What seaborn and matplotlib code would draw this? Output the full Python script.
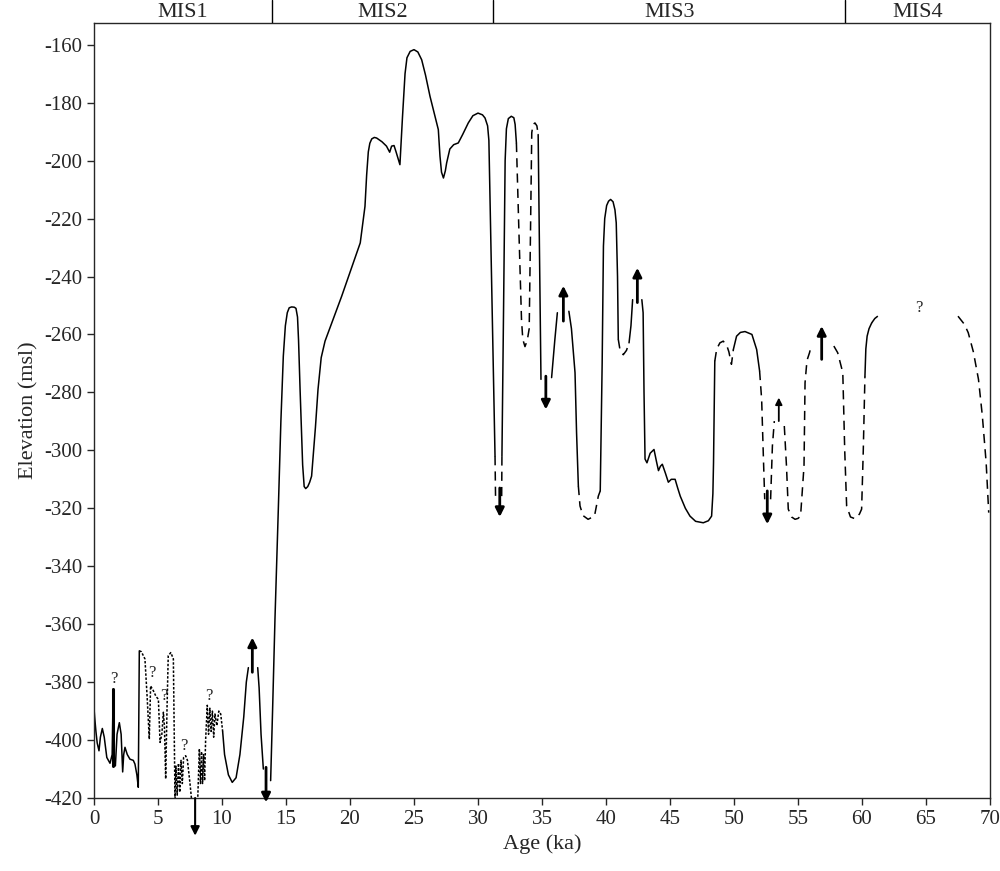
import numpy as np
import pandas as pd
import matplotlib
matplotlib.use("Agg")
import matplotlib.pyplot as plt
import seaborn as sns

# ============================================
# DATA
# ============================================

# each segment: (x values, y values, style)
seg_x = {}
seg_y = {}
seg_style = {}

seg_x["a"] = [0, 0.05, 0.15, 0.25, 0.39, 0.5, 0.65, 0.8, 1.0, 1.25, 1.42, 1.5, 1.56, 1.67,
              1.8, 1.98, 2.12, 2.24, 2.32, 2.42, 2.6, 2.81, 3.07, 3.2, 3.35, 3.46, 3.54]
seg_y["a"] = [-389, -392, -397, -401, -403.7, -399, -396, -399, -406, -408, -405, -382.4, -409, -408.9,
              -398, -394, -398, -411, -405, -402.5, -405, -406.6, -407, -408.3, -412, -416.3, -369.2]
seg_style["a"] = "solid"

seg_x["b"] = [3.54, 3.7, 3.98, 4.15, 4.32, 4.42, 4.64, 4.85, 5.03, 5.16, 5.3, 5.42, 5.5, 5.6, 5.7,
              5.8, 6.0, 6.2, 6.33, 6.4, 6.5, 6.6, 6.7, 6.8, 6.9, 7.0, 7.16, 7.3, 7.5, 7.7, 7.85]
seg_y["b"] = [-369.2, -369.5, -372, -385, -399.7, -381.3, -383, -385, -385.9, -400.8, -398, -390.4, -395, -413.4, -390,
              -370.9, -369.8, -372, -421, -409, -419, -408, -418, -407, -415, -406, -405.4, -407, -415, -424, -428]
seg_style["b"] = "dotted"

seg_x["c"] = [8.1, 8.23, 8.32, 8.4, 8.48, 8.56, 8.64, 8.72, 8.85, 8.95, 9.05, 9.15, 9.25, 9.35,
              9.45, 9.6, 9.75, 9.9, 10.05]
seg_y["c"] = [-421, -403, -415, -404, -415, -405, -414, -400, -388, -398, -389, -397, -390, -399,
              -391, -395, -390, -391, -397]
seg_style["c"] = "dotted"

seg_x["d"] = [10.05, 10.2, 10.5, 10.8, 11.1, 11.4, 11.7, 11.9, 12.06]
seg_y["d"] = [-397, -405, -412, -414.6, -413, -405, -392, -380, -375]
seg_style["d"] = "solid"

seg_x["e"] = [12.79, 12.9, 13.05, 13.23]
seg_y["e"] = [-375, -382, -398, -410]
seg_style["e"] = "solid"

seg_x["f"] = [13.8, 13.95, 14.14, 14.4, 14.6, 14.79, 14.95, 15.1, 15.25, 15.44, 15.65, 15.78, 15.9,
              15.98, 16.1, 16.3, 16.42, 16.54, 16.7, 16.85, 17.0, 17.3, 17.5, 17.75, 18.05, 19.35,
              20.8, 21.17, 21.3, 21.43, 21.55, 21.7, 21.9, 22.08, 22.5, 22.85, 23.1, 23.25, 23.44,
              23.6, 23.9, 24.1, 24.3, 24.45, 24.7, 25.0, 25.3, 25.6, 25.9, 26.25, 26.9, 27.03, 27.15,
              27.3, 27.45, 27.55, 27.8, 28.1, 28.46, 28.8, 29.24, 29.6, 30.0, 30.35, 30.55, 30.75,
              30.85, 30.94, 31.1, 31.33]
seg_y["f"] = [-414, -390, -358, -320.3, -290, -267.5, -257, -252.5, -250.8, -250.5, -250.6, -251, -254,
              -262, -279, -305, -312.5, -313.2, -312.5, -311, -308.9, -292, -279, -268, -262.3, -246.8,
              -228.4, -215.8, -205, -197, -194, -192.5, -192, -192.2, -193.5, -195, -197.1, -195, -194.8,
              -197, -201.4, -185, -170, -164.5, -162.3, -161.7, -162.5, -165.2, -170.5, -177.8, -189.3,
              -198.5, -204, -206, -203.5, -200.8, -196, -194.5, -193.9, -191, -187, -184.5, -183.6,
              -184.2, -185.3, -188, -193, -213.4, -250, -302]
seg_style["f"] = "solid"

seg_x["g"] = [31.33, 31.37]
seg_y["g"] = [-302, -315.8]
seg_style["g"] = "dashed"

seg_x["h"] = [31.85, 31.87]
seg_y["h"] = [-315.8, -302]
seg_style["h"] = "dashed"

seg_x["i"] = [31.87, 32.0, 32.12, 32.22, 32.37, 32.6, 32.8, 32.9, 33.0]
seg_y["i"] = [-302, -250, -200, -189, -185.5, -184.7, -185.2, -187.5, -193.9]
seg_style["i"] = "solid"

seg_x["j"] = [33.0, 33.2, 33.4, 33.5, 33.67, 33.85, 34.0, 34.1, 34.2, 34.3, 34.45, 34.6, 34.7]
seg_y["j"] = [-193.9, -225, -255, -261.7, -264.2, -262, -258, -225, -190.4, -187.5, -187, -188, -191]
seg_style["j"] = "dashed"

seg_x["k"] = [34.7, 34.8, 34.92]
seg_y["k"] = [-191, -230, -275.5]
seg_style["k"] = "solid"

seg_x["l"] = [35.75, 36.0, 36.2]
seg_y["l"] = [-274.9, -262, -252.5]
seg_style["l"] = "solid"

seg_x["m"] = [37.1, 37.3, 37.58, 37.7, 37.84]
seg_y["m"] = [-252, -258, -273.2, -293.9, -312.3]
seg_style["m"] = "solid"

seg_x["n"] = [37.84, 37.97, 38.2, 38.6, 39.1, 39.4, 39.55]
seg_y["n"] = [-312.3, -319.2, -322.5, -323.8, -322.7, -315.8, -314]
seg_style["n"] = "dashed"

seg_x["o"] = [39.55, 39.7, 39.8, 39.9, 40.05, 40.2, 40.36, 40.55, 40.7, 40.8, 40.9, 40.96]
seg_y["o"] = [-314, -270, -229.5, -220, -215.5, -214, -213.4, -214.2, -217, -221.5, -240, -261.7]
seg_style["o"] = "solid"

seg_x["p"] = [40.96, 41.1, 41.35, 41.6, 41.8]
seg_y["p"] = [-261.7, -265.5, -267, -265.5, -262.9]
seg_style["p"] = "dashed"

seg_x["q"] = [41.8, 41.95, 42.08]
seg_y["q"] = [-262.9, -257, -248]
seg_style["q"] = "solid"

seg_x["r"] = [42.8, 42.9, 42.97, 43.05, 43.2, 43.45, 43.75, 43.95, 44.1, 44.25, 44.4, 44.65, 44.87,
              45.1, 45.4, 45.6, 45.8, 46.2, 46.56, 47.0, 47.6, 48.0, 48.25, 48.35, 48.4, 48.5]
seg_y["r"] = [-248, -252.5, -280, -303, -304.3, -301, -299.7, -304, -307, -305.5, -304.8, -308, -311,
              -310, -310, -313, -315.8, -320, -322.7, -324.5, -325, -324.3, -322.7, -315, -304.3, -269.2]
seg_style["r"] = "solid"

seg_x["s"] = [48.5, 48.65, 48.9, 49.16, 49.45, 49.6, 49.8, 49.95]
seg_y["s"] = [-269.2, -265, -262.9, -262.3, -264, -266, -270.3, -265.2]
seg_style["s"] = "dashed"

seg_x["t"] = [49.95, 50.2, 50.5, 50.86, 51.4, 51.77, 52.0]
seg_y["t"] = [-265.2, -260.6, -259.3, -259, -260, -265.2, -272.6]
seg_style["t"] = "solid"

seg_x["u"] = [52.0, 52.16, 52.3, 52.4]
seg_y["u"] = [-272.6, -282.4, -303, -316.9]
seg_style["u"] = "dashed"

seg_x["v"] = [52.86, 53.0, 53.15]
seg_y["v"] = [-316.9, -298.5, -289.9]
seg_style["v"] = "dashed"

seg_x["w"] = [53.93, 54.1, 54.24, 54.5, 54.77, 55.0, 55.2, 55.47, 55.55, 55.7, 55.9, 56.0]
seg_y["w"] = [-291.6, -305.4, -320.3, -323, -323.8, -323.5, -322.7, -305.4, -276.7, -269, -266.3, -264.5]
seg_style["w"] = "dashed"

seg_x["x"] = [57.8, 58.1, 58.5, 58.65, 58.8, 59.1, 59.45, 59.8, 59.97, 60.1, 60.23]
seg_y["x"] = [-264, -266.3, -273.2, -300, -319.2, -323, -323.6, -322, -320.3, -300, -274.4]
seg_style["x"] = "dashed"

seg_x["y"] = [60.23, 60.3, 60.4, 60.55, 60.76]
seg_y["y"] = [-274.4, -265, -260.6, -258, -256]
seg_style["y"] = "solid"

seg_x["z"] = [60.76, 61.0, 61.4]
seg_y["z"] = [-256, -254.5, -253.1]
seg_style["z"] = "dashed"

seg_x["zz"] = [67.5, 68.0, 68.3, 68.7, 69.1, 69.4, 69.7, 69.9]
seg_y["zz"] = [-253.7, -256.5, -259.4, -266, -275.5, -288, -304.3, -321.5]
seg_style["zz"] = "dashed"

# arrows: x, tail y, tip y
arrow_x = [7.9, 12.37, 13.44, 31.7, 35.3, 36.67, 42.45, 52.6, 53.5, 56.85]
arrow_y0 = [-420, -376.6, -409.4, -313, -274.4, -255.4, -249, -314, -289.9, -268.6]
arrow_y1 = [-433, -364.6, -421.5, -323, -285.9, -243.2, -237, -325.5, -281.8, -257.1]
arrow_lw = [1.5, 2, 2, 2, 2, 2, 2, 2, 1.3, 2]

# question marks
q_x = [1.51, 4.5, 5.42, 6.98, 8.98, 64.4]
q_y = [-378.9, -376.7, -384.7, -402.2, -384.7, -250.8]

# marine isotope stages
mis_bounds = [0, 13.9, 31.2, 58.7, 70]
mis_labels = ["MIS1", "MIS2", "MIS3", "MIS4"]

# ============================================
# PLOT
# ============================================

sns.set_style("ticks")
plt.rcParams["font.family"] = ["Liberation Serif", "DejaVu Serif"]
plt.rcParams["axes.unicode_minus"] = False

styles = {
    "solid": "-",
    "dashed": (0, (6, 4)),
    "dotted": (0, (1.6, 1.1)),
}

fig = plt.figure(figsize=(10, 8.71), dpi=100)
ax = fig.add_axes([0.094, 0.0838, 0.896, 0.8898])

for key in seg_x:
    df = pd.DataFrame({"age": seg_x[key], "elev": seg_y[key]})
    sns.lineplot(
        data=df, x="age", y="elev", sort=False, estimator=None,
        color="black", linewidth=1.1, linestyle=styles[seg_style[key]], ax=ax
    )

# thick spike near 1.5 ka
ax.plot([1.5, 1.5], [-409, -382.4], color="black", linewidth=2.2)

for x, y0, y1, lw in zip(arrow_x, arrow_y0, arrow_y1, arrow_lw):
    ax.annotate(
        "", xy=(x, y1), xytext=(x, y0), annotation_clip=False,
        arrowprops=dict(arrowstyle="-|>", color="black", lw=lw,
                        mutation_scale=13 if lw > 1.4 else 10, shrinkA=0, shrinkB=0)
    )

for x, y in zip(q_x, q_y):
    ax.text(x, y, "?", ha="center", va="center", fontsize=12)

ax.set_xlim(0, 70)
ax.set_ylim(-420, -152.5)
ax.set_xticks(np.arange(0, 71, 5))
ax.set_yticks(np.arange(-420, -159, 20))
ax.tick_params(direction="out", length=5, width=1, labelsize=15)
for s in ax.spines.values():
    s.set_visible(True)
    s.set_linewidth(1.0)

ax.set_xlabel("Age (ka)", fontsize=16, labelpad=4)
ax.set_ylabel("Elevation (msl)", fontsize=16, labelpad=4)

# MIS band on top
band = fig.add_axes([0.094, 0.9736, 0.896, 0.0264])
band.set_xlim(0, 70)
band.set_ylim(0, 1)
band.axis("off")
for b in mis_bounds[1:-1]:
    band.plot([b, b], [0, 1], color="black", linewidth=1.0)
for i, lab in enumerate(mis_labels):
    band.text((mis_bounds[i] + mis_bounds[i + 1]) / 2, 0.45, lab,
              ha="center", va="center", fontsize=16)

plt.savefig("out.png", dpi=100)
